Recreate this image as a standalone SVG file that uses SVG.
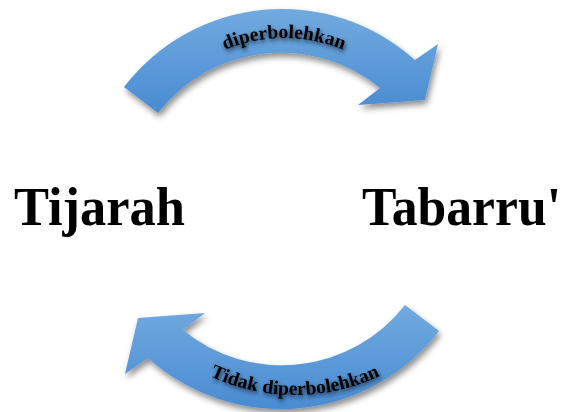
<svg xmlns="http://www.w3.org/2000/svg" width="566" height="412" viewBox="0 0 566 412">
<defs>
<linearGradient id="blue" x1="0" y1="0" x2="0" y2="1">
<stop offset="0" stop-color="#71aadf"/>
<stop offset="1" stop-color="#4a8bd2"/>
</linearGradient>
<filter id="shadow" x="-20%" y="-20%" width="140%" height="150%">
<feDropShadow dx="2" dy="4" stdDeviation="3" flood-color="#000" flood-opacity="0.45"/>
</filter>
<filter id="tshadow" x="-10%" y="-30%" width="120%" height="180%">
<feDropShadow dx="1" dy="2.5" stdDeviation="2" flood-color="#000" flood-opacity="0.7"/>
</filter>
<path id="topCurve" d="M129,193 A155,155 0 0 1 439,193"/>
<path id="botCurve" d="M95,195 A200,200 0 0 0 495,195"/>
</defs>
<style>
.arrow{fill:url(#blue);filter:url(#shadow)}
.lbl{font-family:"Liberation Serif","Times New Roman",serif;font-weight:bold;font-size:19.5px;fill:#000;filter:url(#tshadow)}
.big{font-family:"Liberation Serif","Times New Roman",serif;font-weight:bold;font-size:55px;fill:#000}
</style>
<g id="connectors">
<g id="arrow-top">
<path class="arrow" d="M124,87 A199,199 0 0 1 415,60 L438,44 L425,100 L358,105 L380,88 A156,156 0 0 0 158,113 Z"/>
<text class="lbl" text-anchor="middle"><textPath href="#topCurve" startOffset="50%">diperbolehkan</textPath></text>
</g>
<g id="arrow-bottom">
<path class="arrow" d="M439,331 A199,199 0 0 1 148,358 L125,374 L138,318 L205,313 L183,330 A156,156 0 0 0 405,305 Z"/>
<text class="lbl" text-anchor="middle"><textPath href="#botCurve" startOffset="50%">Tidak diperbolehkan</textPath></text>
</g>
</g>
<g id="node-tijarah">
<text class="big" x="14" y="225" textLength="171" lengthAdjust="spacingAndGlyphs">Tijarah</text>
</g>
<g id="node-tabarru">
<text class="big" x="362" y="225" textLength="199" lengthAdjust="spacingAndGlyphs">Tabarru'</text>
</g>
</svg>
